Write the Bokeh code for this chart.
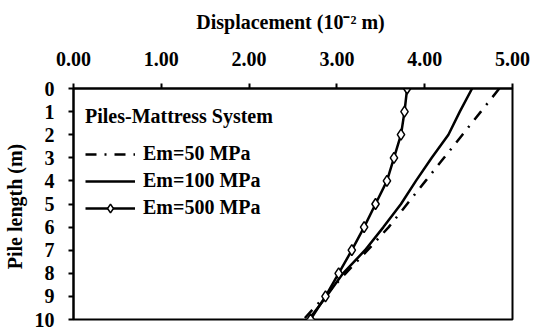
from bokeh.plotting import figure
from bokeh.models import Range1d, LinearAxis, FixedTicker, NumeralTickFormatter, Legend, LegendItem
from bokeh.embed import file_html
from bokeh.resources import INLINE

depth = [0, 1, 2, 3, 4, 5, 6, 7, 8, 9, 10]
em50 = [4.85, 4.64, 4.43, 4.22, 4.01, 3.80, 3.59, 3.35, 3.10, 2.86, 2.62]
em100 = [4.54, 4.40, 4.27, 4.08, 3.90, 3.73, 3.53, 3.32, 3.07, 2.88, 2.68]
em500 = [3.80, 3.77, 3.73, 3.65, 3.57, 3.44, 3.31, 3.17, 3.02, 2.87, 2.70]
x_ticks = [0, 1, 2, 3, 4, 5]
y_ticks = [0, 1, 2, 3, 4, 5, 6, 7, 8, 9, 10]
legend_title = "Piles-Mattress System"
labels = ["Em=50 MPa", "Em=100 MPa", "Em=500 MPa"]
x_title = "Displacement  (10\u207b\u00b2 m)"
y_title = "Pile length  (m)"

FONT = "Liberation Serif"

p = figure(width=533, height=329, output_backend="svg", toolbar_location=None,
           x_range=Range1d(0, 5), y_range=Range1d(10, 0),
           x_axis_location=None, y_axis_location=None,
           min_border_left=73, min_border_right=21, min_border_top=88, min_border_bottom=10)
p.grid.visible = False
p.outline_line_color = "black"
p.outline_line_width = 2
p.outline_line_alpha = 1
p.background_fill_color = "white"
p.border_fill_color = "white"

xa = LinearAxis(ticker=FixedTicker(ticks=x_ticks), formatter=NumeralTickFormatter(format="0.00"),
                axis_label=x_title)
ya = LinearAxis(ticker=FixedTicker(ticks=y_ticks), axis_label=y_title)
for ax in (xa, ya):
    ax.axis_line_width = 2
    ax.axis_line_color = "black"
    ax.major_tick_line_width = 2
    ax.major_tick_line_color = "black"
    ax.major_tick_in = 0
    ax.major_tick_out = 5
    ax.minor_tick_line_color = None
    ax.major_label_text_font = FONT
    ax.major_label_text_font_style = "bold"
    ax.major_label_text_font_size = "20px"
    ax.major_label_text_color = "black"
    ax.axis_label_text_font = FONT
    ax.axis_label_text_font_style = "bold"
    ax.axis_label_text_font_size = "20px"
    ax.axis_label_text_color = "black"
xa.major_label_standoff = 18
xa.axis_label_standoff = 16
ya.major_label_standoff = 14
ya.axis_label_standoff = 6
p.add_layout(xa, "above")
p.add_layout(ya, "left")

r50 = p.line(em50, depth, line_color="black", line_width=2.5, line_dash="11 8 2 8")
r100 = p.line(em100, depth, line_color="black", line_width=2.5)
r500 = p.line(em500, depth, line_color="black", line_width=2.5)
s500 = p.scatter(em500, depth, marker="diamond", size=11, fill_color="white",
                 line_color="black", line_width=1.5)

legend = Legend(items=[LegendItem(label=labels[0], renderers=[r50]),
                       LegendItem(label=labels[1], renderers=[r100]),
                       LegendItem(label=labels[2], renderers=[r500, s500])],
                location=(12, 100), title=legend_title)
legend.border_line_alpha = 0
legend.background_fill_alpha = 0
legend.padding = 0
legend.margin = 0
legend.spacing = 4
legend.label_height = 22
legend.glyph_height = 22
legend.glyph_width = 50
legend.label_standoff = 8
legend.title_standoff = 14
legend.label_text_font = FONT
legend.label_text_font_style = "bold"
legend.label_text_font_size = "20px"
legend.label_text_color = "black"
legend.title_text_font = FONT
legend.title_text_font_style = "bold"
legend.title_text_font_size = "20px"
legend.title_text_color = "black"
p.add_layout(legend, "center")

open("out.html", "w").write(file_html(p, INLINE))
